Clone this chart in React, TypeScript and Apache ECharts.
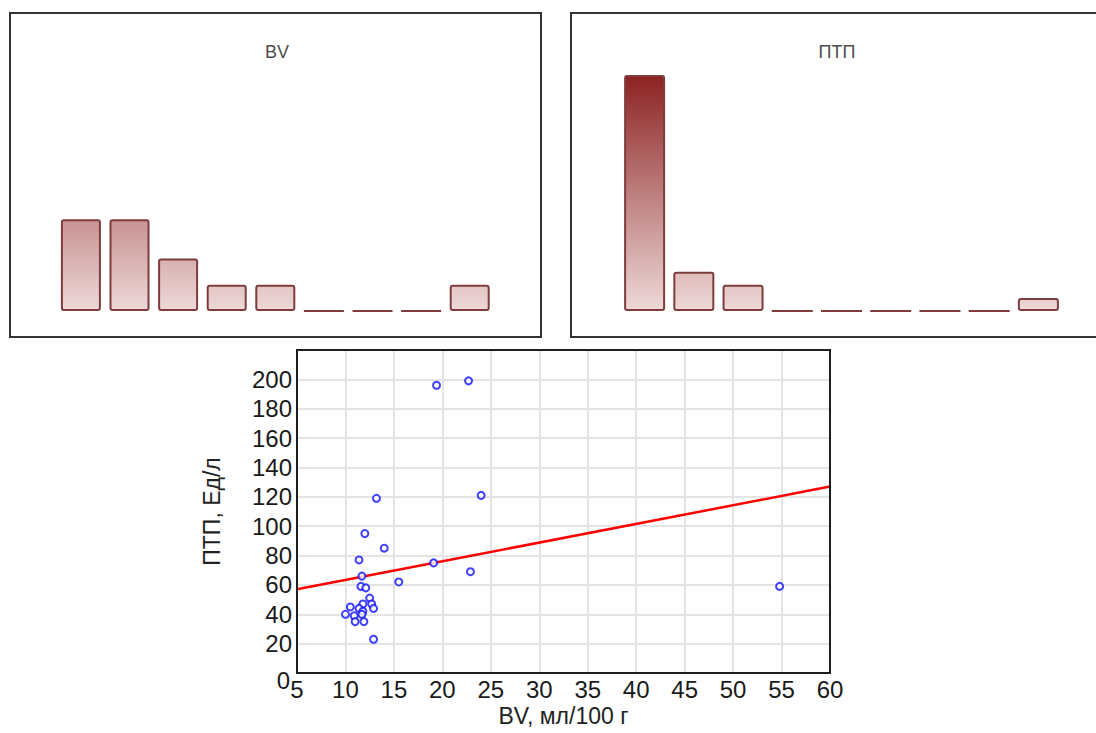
import { useEffect, useRef } from "react";
import * as echarts from "echarts";

// Histogram bins (counts per bin, nine equal-width bins each)
const histBins = ["1", "2", "3", "4", "5", "6", "7", "8", "9"];
const bvCounts = [7, 7, 4, 2, 2, 0, 0, 0, 2];
const ptpCounts = [18, 3, 2, 0, 0, 0, 0, 0, 1];

// Scatter: BV (мл/100 г) vs ПТП (Ед/л)
const bvValues = [
  19.4, 22.7, 13.2, 24.0, 12.0, 14.0, 11.4, 19.1, 22.9, 11.7, 15.5, 11.6, 12.1, 54.8,
  12.5, 11.8, 12.7, 12.9, 10.5, 11.4, 11.8, 10.0, 10.9, 11.7, 11.0, 11.9, 12.9,
];
const ptpValues = [
  196, 199, 119, 121, 95, 85, 77, 75, 69, 66, 62, 59, 58, 59,
  51, 47, 47, 44, 45, 44, 42, 40, 39, 40, 35, 35, 23,
];

// Linear fit endpoints
const fitX = [5, 60];
const fitY = [57, 127];

const FONT = "Arial, 'Liberation Sans', sans-serif";

export default function App() {
  const ref = useRef<HTMLDivElement>(null);

  useEffect(() => {
    if (!ref.current) return;
    const chart = echarts.init(ref.current, undefined, { renderer: "svg" });

    const barGradient = {
      type: "linear",
      x: 0,
      y: 75,
      x2: 0,
      y2: 311,
      global: true,
      colorStops: [
        { offset: 0, color: "#8c2222" },
        { offset: 1, color: "#eed9d9" },
      ],
    };

    const histBar = (idx: number, data: number[], width: number) => ({
      type: "bar",
      xAxisIndex: idx,
      yAxisIndex: idx,
      data,
      barWidth: width,
      itemStyle: {
        color: barGradient,
        borderColor: "#7e3c3c",
        borderWidth: 2,
        borderRadius: 2,
      },
    });

    const hiddenCat = (gridIndex: number) => ({
      type: "category",
      gridIndex,
      data: histBins,
      show: false,
    });
    const hiddenVal = (gridIndex: number) => ({
      type: "value",
      gridIndex,
      min: 0,
      max: 18,
      show: false,
    });

    const points = bvValues.map((x, i) => [x, ptpValues[i]]);
    const fitLine = fitX.map((x, i) => [x, fitY[i]]);

    const panelTitle = (x: number, text: string) => ({
      type: "text",
      x,
      y: 52,
      style: {
        text,
        align: "center",
        verticalAlign: "middle",
        fontFamily: FONT,
        fontSize: 18,
        fill: "#4d4d4d",
      },
    });

    chart.setOption({
      animation: false,
      backgroundColor: "#ffffff",
      graphic: [
        {
          type: "rect",
          shape: { x: 10, y: 13, width: 531, height: 324 },
          style: { fill: "none", stroke: "#333333", lineWidth: 2 },
        },
        {
          type: "rect",
          shape: { x: 571, y: 13, width: 540, height: 324 },
          style: { fill: "none", stroke: "#333333", lineWidth: 2 },
        },
        panelTitle(277, "BV"),
        panelTitle(837, "ПТП"),
        {
          type: "rect",
          z: 100,
          shape: { x: 297, y: 350, width: 533, height: 323 },
          style: { fill: "none", stroke: "#1e1e1e", lineWidth: 2 },
        },
      ],
      grid: [
        { left: 56.6, top: 75, width: 437.4, height: 236 },
        { left: 620, top: 75, width: 443, height: 236 },
        { left: 297, top: 350, width: 533, height: 323 },
      ],
      xAxis: [
        hiddenCat(0),
        hiddenCat(1),
        {
          type: "value",
          gridIndex: 2,
          min: 5,
          max: 60,
          interval: 5,
          name: "BV, мл/100 г",
          nameLocation: "middle",
          nameGap: 31,
          nameTextStyle: { fontFamily: FONT, fontSize: 23, color: "#222" },
          axisLine: { show: false },
          axisTick: { show: false },
          axisLabel: {
            fontFamily: FONT,
            fontSize: 24,
            color: "#1a1a1a",
            margin: 4,
          },
          splitLine: { show: true, lineStyle: { color: "#e4e4e4", width: 2 } },
        },
      ],
      yAxis: [
        hiddenVal(0),
        hiddenVal(1),
        {
          type: "value",
          gridIndex: 2,
          min: 0,
          max: 220,
          interval: 20,
          name: "ПТП, Ед/л",
          nameLocation: "middle",
          nameGap: 74,
          nameRotate: 90,
          nameTextStyle: { fontFamily: FONT, fontSize: 23, color: "#222" },
          axisLine: { show: false },
          axisTick: { show: false },
          axisLabel: {
            fontFamily: FONT,
            fontSize: 24,
            color: "#1a1a1a",
            margin: 5,
            formatter: (v: number) => (v > 200 ? "" : v === 0 ? "{low|0}" : String(v)),
            rich: {
              low: {
                fontFamily: FONT,
                fontSize: 24,
                color: "#1a1a1a",
                padding: [14, 2, 0, 0],
              },
            },
          },
          splitLine: { show: true, lineStyle: { color: "#e4e4e4", width: 2 } },
        },
      ],
      series: [
        histBar(0, bvCounts, 40),
        histBar(1, ptpCounts, 41),
        {
          type: "line",
          xAxisIndex: 2,
          yAxisIndex: 2,
          data: fitLine,
          showSymbol: false,
          lineStyle: { color: "#ff0000", width: 2.5 },
          z: 3,
        },
        {
          type: "scatter",
          xAxisIndex: 2,
          yAxisIndex: 2,
          data: points,
          symbol: "emptyCircle",
          symbolSize: 7,
          itemStyle: { color: "#1010ff", borderWidth: 1.8 },
          z: 4,
        },
      ],
    });

    return () => chart.dispose();
  }, []);

  return (
    <div
      ref={ref}
      style={{ position: "absolute", left: 0, top: 0, width: 1096, height: 733 }}
    />
  );
}
